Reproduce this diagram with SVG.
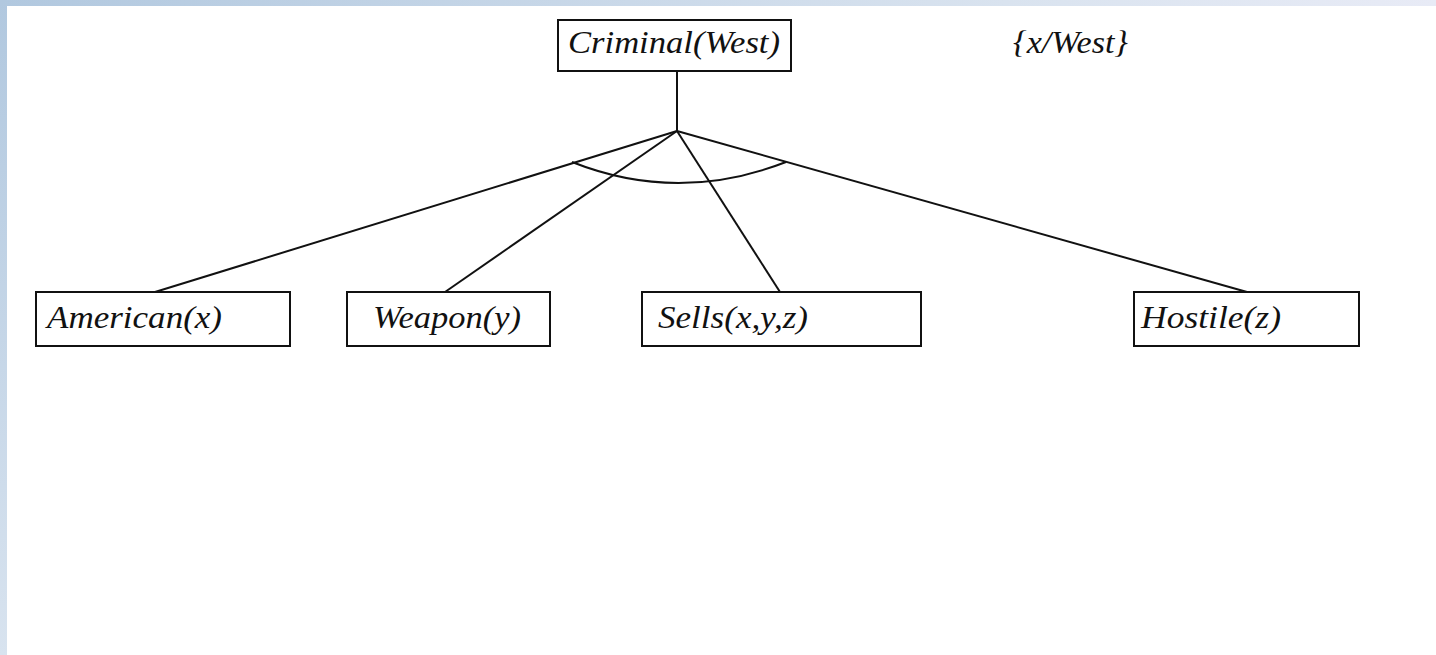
<svg xmlns="http://www.w3.org/2000/svg" width="1436" height="655" viewBox="0 0 1436 655">
<defs>
<linearGradient id="gTop" x1="0" y1="0" x2="1" y2="0">
<stop offset="0" stop-color="#b1c8df"/>
<stop offset="0.7" stop-color="#d9e3ef"/>
<stop offset="1" stop-color="#e8ebf6"/>
</linearGradient>
<linearGradient id="gLeft" x1="0" y1="0" x2="0" y2="1">
<stop offset="0" stop-color="#b1c8df"/>
<stop offset="1" stop-color="#d8e3ef"/>
</linearGradient>
<style>
.box{fill:#fff;stroke:#111;stroke-width:2}
.lbl{font-family:"Liberation Serif","Times New Roman",serif;font-style:italic;font-size:32px;fill:#111}
.con{fill:none;stroke:#111;stroke-width:2}
</style>
</defs>
<rect width="1436" height="655" fill="#fff"/>
<rect x="0" y="0" width="1436" height="6" fill="url(#gTop)"/>
<rect x="0" y="0" width="7" height="655" fill="url(#gLeft)"/>
<g id="connectors">
<line class="con" x1="677" y1="71" x2="677" y2="131"/>
<line class="con" x1="677" y1="131" x2="155" y2="292"/>
<line class="con" x1="677" y1="131" x2="445" y2="292"/>
<line class="con" x1="677" y1="131" x2="780" y2="292"/>
<line class="con" x1="677" y1="131" x2="1247" y2="292"/>
<path class="con" d="M 572 162 Q 678 204 786 162"/>
</g>
<g id="criminal">
<rect class="box" x="558" y="20" width="233" height="51"/>
<text class="lbl" x="568" y="53" textLength="212" lengthAdjust="spacingAndGlyphs">Criminal(West)</text>
</g>
<g id="subst">
<text class="lbl" x="1013" y="53" textLength="115" lengthAdjust="spacingAndGlyphs">{x/West}</text>
</g>
<g id="american">
<rect class="box" x="36" y="292" width="254" height="54"/>
<text class="lbl" x="47" y="328" textLength="175" lengthAdjust="spacingAndGlyphs">American(x)</text>
</g>
<g id="weapon">
<rect class="box" x="347" y="292" width="203" height="54"/>
<text class="lbl" x="373" y="328" textLength="148" lengthAdjust="spacingAndGlyphs">Weapon(y)</text>
</g>
<g id="sells">
<rect class="box" x="642" y="292" width="279" height="54"/>
<text class="lbl" x="658" y="328" textLength="150" lengthAdjust="spacingAndGlyphs">Sells(x,y,z)</text>
</g>
<g id="hostile">
<rect class="box" x="1134" y="292" width="225" height="54"/>
<text class="lbl" x="1141" y="328" textLength="140" lengthAdjust="spacingAndGlyphs">Hostile(z)</text>
</g>
</svg>
